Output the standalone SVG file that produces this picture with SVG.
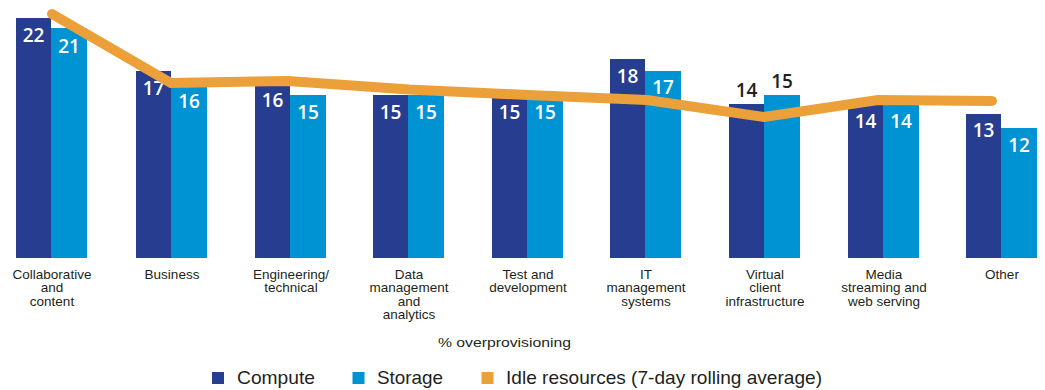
<svg xmlns="http://www.w3.org/2000/svg" width="1045" height="390" viewBox="0 0 1045 390">
<style>
.c{fill:#273d8f}
.s{fill:#0093d4}
.v{font-family:"Open Sans","Liberation Sans",sans-serif;font-weight:600;font-size:19px;fill:#ffffff;text-anchor:middle}
.vd{fill:#231f20}
.cat{font-family:"Liberation Sans",Arial,sans-serif;font-size:13.5px;fill:#231f20;text-anchor:middle}
.lg{font-family:"Liberation Sans",Arial,sans-serif;font-size:19px;fill:#231f20}
</style>
<rect width="1045" height="390" fill="#ffffff"/>
<g id="cat-collaborative">
<rect class="c" x="16" y="18" width="35" height="240"/>
<rect class="s" x="51" y="28" width="36" height="230"/>
<text class="v" x="33.5" y="42">22</text>
<text class="v" x="69" y="53">21</text>
<text class="cat" x="52" y="278.5">Collaborative</text>
<text class="cat" x="52" y="292">and</text>
<text class="cat" x="52" y="305.5">content</text>
</g>
<g id="cat-business">
<rect class="c" x="136" y="71" width="35" height="187"/>
<rect class="s" x="171" y="83" width="36" height="175"/>
<text class="v" x="153.5" y="95">17</text>
<text class="v" x="189" y="108">16</text>
<text class="cat" x="172" y="278.5">Business</text>
</g>
<g id="cat-engineering">
<rect class="c" x="255" y="83" width="35" height="175"/>
<rect class="s" x="290" y="95" width="36" height="163"/>
<text class="v" x="272.5" y="107">16</text>
<text class="v" x="308" y="118.5">15</text>
<text class="cat" x="291" y="278.5">Engineering/</text>
<text class="cat" x="291" y="292">technical</text>
</g>
<g id="cat-data">
<rect class="c" x="373" y="95" width="35" height="163"/>
<rect class="s" x="408" y="95" width="36" height="163"/>
<text class="v" x="390.5" y="118.5">15</text>
<text class="v" x="426" y="118.5">15</text>
<text class="cat" x="409" y="278.5">Data</text>
<text class="cat" x="409" y="292">management</text>
<text class="cat" x="409" y="305.5">and</text>
<text class="cat" x="409" y="319">analytics</text>
</g>
<g id="cat-test">
<rect class="c" x="492" y="95" width="35" height="163"/>
<rect class="s" x="527" y="95" width="36" height="163"/>
<text class="v" x="509.5" y="118.5">15</text>
<text class="v" x="545" y="118.5">15</text>
<text class="cat" x="528" y="278.5">Test and</text>
<text class="cat" x="528" y="292">development</text>
</g>
<g id="cat-it">
<rect class="c" x="610" y="59" width="35" height="199"/>
<rect class="s" x="645" y="71" width="36" height="187"/>
<text class="v" x="627.5" y="83">18</text>
<text class="v" x="663" y="94">17</text>
<text class="cat" x="646" y="278.5">IT</text>
<text class="cat" x="646" y="292">management</text>
<text class="cat" x="646" y="305.5">systems</text>
</g>
<g id="cat-virtual">
<rect class="c" x="729" y="104" width="35" height="154"/>
<rect class="s" x="764" y="95" width="36" height="163"/>
<text class="v vd" x="746.5" y="97">14</text>
<text class="v vd" x="782" y="88">15</text>
<text class="cat" x="765" y="278.5">Virtual</text>
<text class="cat" x="765" y="292">client</text>
<text class="cat" x="765" y="305.5">infrastructure</text>
</g>
<g id="cat-media">
<rect class="c" x="848" y="104" width="35" height="154"/>
<rect class="s" x="883" y="104" width="36" height="154"/>
<text class="v" x="865.5" y="128">14</text>
<text class="v" x="901" y="128">14</text>
<text class="cat" x="884" y="278.5">Media</text>
<text class="cat" x="884" y="292">streaming and</text>
<text class="cat" x="884" y="305.5">web serving</text>
</g>
<g id="cat-other">
<rect class="c" x="966" y="114" width="35" height="144"/>
<rect class="s" x="1001" y="128" width="36" height="130"/>
<text class="v" x="983.5" y="137">13</text>
<text class="v" x="1019" y="152">12</text>
<text class="cat" x="1002" y="278.5">Other</text>
</g>
<g id="connectors">
<polyline points="52,14 171,83 288,81 409,89.5 528,95 647,100 764,117 878,100 992,101" fill="none" stroke="#eca03a" stroke-width="10" stroke-linecap="round" stroke-linejoin="miter"/>
</g>
<g id="axis-title">
<text class="cat" x="504.5" y="347" font-size="15" textLength="133" lengthAdjust="spacingAndGlyphs">% overprovisioning</text>
</g>
<g id="legend">
<rect class="c" x="212" y="372" width="12" height="12"/>
<text class="lg" x="237" y="384" textLength="78" lengthAdjust="spacingAndGlyphs">Compute</text>
<rect class="s" x="352.5" y="372" width="12" height="12"/>
<text class="lg" x="377" y="384" textLength="66" lengthAdjust="spacingAndGlyphs">Storage</text>
<rect x="481.5" y="372" width="12" height="12" fill="#eca03a"/>
<text class="lg" x="506" y="384" textLength="316" lengthAdjust="spacingAndGlyphs">Idle resources (7-day rolling average)</text>
</g>
</svg>
